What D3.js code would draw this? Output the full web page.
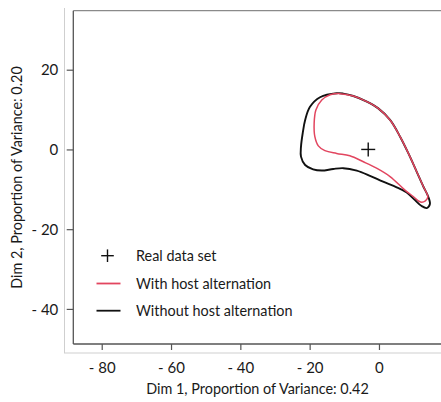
<!DOCTYPE html>
<html>
<head>
<meta charset="utf-8">
<script src="https://cdn.jsdelivr.net/npm/d3@7"></script>
<style>
  html, body { margin: 0; padding: 0; background: #fff; }
  svg { display: block; }
  text { font-family: Lato, "Open Sans", sans-serif; fill: #1a1a1a; }
</style>
</head>
<body>
<svg id="chart" width="441" height="402"></svg>
<script>
// ---- Data ----
const xTicks = [-80, -60, -40, -20, 0];
const yTicks = [20, 0, -20, -40];
const realDataSet = [[-3.1, 0]];
const withoutHostAlternation = [
  [-12.2, 14.1], [-17.0, 13.1], [-19.9, 10.7], [-21.3, 7.4], [-22.0, 4.1],
  [-22.5, 0.7], [-22.5, -1.8], [-21.3, -3.9], [-19.0, -5.0], [-16.5, -5.3],
  [-13.2, -4.9], [-10.3, -4.7], [-6.4, -5.3], [-2.6, -6.6], [1.2, -8.1],
  [5.1, -9.5], [8.0, -10.8], [10.4, -12.7], [12.3, -14.2], [13.8, -14.7],
  [14.7, -13.7], [14.2, -11.8], [12.8, -9.3], [10.9, -5.6], [8.5, -1.0],
  [6.1, 3.2], [3.2, 7.4], [-0.2, 10.3], [-3.5, 12.0], [-7.4, 13.4], [-10.3, 14.0]
];
const withHostAlternation = [
  [-11.3, 14.0], [-14.1, 13.7], [-16.5, 12.4], [-18.2, 9.9], [-18.7, 6.6],
  [-18.5, 3.2], [-17.5, 0.9], [-15.6, -0.3], [-12.2, -1.0], [-8.4, -1.6],
  [-4.5, -3.1], [-0.7, -4.7], [3.2, -6.8], [7.5, -10.2], [9.9, -11.8],
  [12.0, -13.2], [13.4, -12.9], [14.1, -11.9], [12.8, -9.3], [10.9, -5.6],
  [8.5, -1.0], [6.1, 3.2], [3.2, 7.4], [-0.2, 10.3], [-3.5, 12.0], [-7.4, 13.4]
];
const legendLabels = ["Real data set", "With host alternation", "Without host alternation"];
const xTitle = "Dim 1, Proportion of Variance: 0.42";
const yTitle = "Dim 2, Proportion of Variance: 0.20";

// ---- Layout ----
const svg = d3.select("#chart");
const plot = { left: 73.3, right: 441, top: 10.7, bottom: 344 };
const x = d3.scaleLinear().domain([-88.2, 17.9]).range([plot.left, plot.right]);
const y = d3.scaleLinear().domain([-48.8, 34.8]).range([plot.bottom, plot.top]);
const RED = "#e2455f";
const FS = "14.4px";
const fmt = d => d < 0 ? "- " + Math.abs(d) : String(d);

// outer light frame
svg.append("line").attr("x1", 64.5).attr("x2", 64.5).attr("y1", 8).attr("y2", 353)
  .attr("stroke", "#cfcfcf").attr("stroke-width", 1);
svg.append("line").attr("x1", 64).attr("x2", 441).attr("y1", 353).attr("y2", 353)
  .attr("stroke", "#cfcfcf").attr("stroke-width", 1);

// inner frame
svg.append("line").attr("x1", plot.left).attr("x2", plot.right).attr("y1", plot.top).attr("y2", plot.top)
  .attr("stroke", "#8a8a8a").attr("stroke-width", 1.2);
svg.append("line").attr("x1", plot.left).attr("x2", plot.left).attr("y1", plot.top).attr("y2", plot.bottom)
  .attr("stroke", "#555").attr("stroke-width", 1.3);
svg.append("line").attr("x1", plot.left).attr("x2", plot.right).attr("y1", plot.bottom).attr("y2", plot.bottom)
  .attr("stroke", "#555").attr("stroke-width", 1.3);

// x axis
const gx = svg.append("g").attr("transform", `translate(0,${plot.bottom})`)
  .call(d3.axisBottom(x).tickValues(xTicks).tickSize(6).tickFormat(fmt));
gx.select(".domain").remove();
gx.selectAll("line").attr("stroke", "#555").attr("stroke-width", 1.2);
gx.selectAll("text").attr("y", 29).attr("dy", 0).style("font-size", "15px").attr("fill", "#1a1a1a");

// y axis
const gy = svg.append("g").attr("transform", `translate(${plot.left},0)`)
  .call(d3.axisLeft(y).tickValues(yTicks).tickSize(6.6).tickPadding(8.4).tickFormat(fmt));
gy.select(".domain").remove();
gy.selectAll("line").attr("stroke", "#555").attr("stroke-width", 1.2);
gy.selectAll("text").attr("dy", "0.34em").style("font-size", "15px").attr("fill", "#1a1a1a");

// titles
svg.append("text").attr("x", 257.5).attr("y", 394).attr("text-anchor", "middle")
  .style("font-size", FS).text(xTitle);
svg.append("text").attr("transform", "translate(22,177.5) rotate(-90)").attr("text-anchor", "middle")
  .style("font-size", FS).text(yTitle);

// contours
const line = d3.line().x(d => x(d[0])).y(d => y(d[1])).curve(d3.curveCatmullRomClosed.alpha(0.5));
svg.append("path").attr("d", line(withoutHostAlternation))
  .attr("fill", "none").attr("stroke", "#111").attr("stroke-width", 1.9);
svg.append("path").attr("d", line(withHostAlternation))
  .attr("fill", "none").attr("stroke", RED).attr("stroke-width", 1.5);

// real data set marker
const plus = (g, cx, cy, r) => {
  g.append("line").attr("x1", cx - r).attr("x2", cx + r).attr("y1", cy).attr("y2", cy)
    .attr("stroke", "#111").attr("stroke-width", 1.4);
  g.append("line").attr("x1", cx).attr("x2", cx).attr("y1", cy - r).attr("y2", cy + r)
    .attr("stroke", "#111").attr("stroke-width", 1.4);
};
realDataSet.forEach(d => plus(svg, x(d[0]), y(d[1]), 7));

// legend
const leg = svg.append("g");
const legY = [255.7, 283.5, 310.7];
plus(leg, 107.5, legY[0], 6.3);
leg.append("line").attr("x1", 96.5).attr("x2", 120.5).attr("y1", legY[1]).attr("y2", legY[1])
  .attr("stroke", RED).attr("stroke-width", 1.8);
leg.append("line").attr("x1", 96.5).attr("x2", 120.5).attr("y1", legY[2]).attr("y2", legY[2])
  .attr("stroke", "#111").attr("stroke-width", 1.8);
legendLabels.forEach((t, i) => {
  leg.append("text").attr("x", 136).attr("y", legY[i]).attr("dy", "0.35em")
    .style("font-size", FS).text(t);
});
</script>
</body>
</html>
